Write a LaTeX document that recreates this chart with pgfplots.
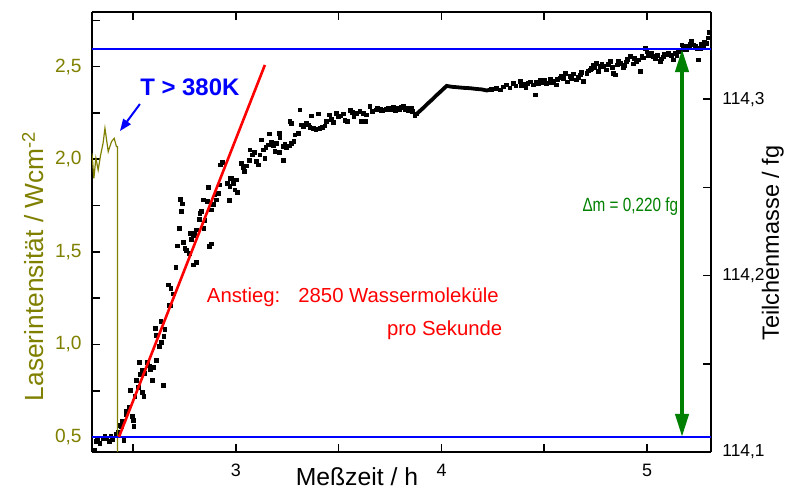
\documentclass[border=0pt]{standalone}
\usepackage{fontspec}
\setmainfont{Liberation Sans}
\usepackage{graphicx}
\usepackage{pgfplots}
\pgfplotsset{compat=1.18}
\usetikzlibrary{arrows.meta}
\definecolor{olivel}{RGB}{128,128,0}
\definecolor{dgreen}{RGB}{0,128,0}
\definecolor{bl}{RGB}{0,0,255}
\definecolor{rd}{RGB}{255,0,0}
\begin{document}
\begin{tikzpicture}
\useasboundingbox (-46bp,-19.5bp) rectangle (349bp,226bp);
% ---------------- right axis: particle mass ----------------
\begin{axis}[
  at={(0,0)}, anchor=south west,
  scale only axis, width=309.5bp, height=220bp,
  xmin=2.30, xmax=5.311, ymin=114.1, ymax=114.3494,
  axis x line=none, axis y line*=right,
  ytick={114.1,114.2,114.3}, yticklabels={{114,1},{114,2},{114,3}},
  minor ytick={114.15,114.25},
  tick align=inside, major tick length=4bp, minor tick length=4bp,
  every tick/.style={black, line width=0.8bp},
  axis line style={line width=0.9bp},
  yticklabel style={font=\fontsize{8.7}{10}\selectfont, inner sep=0pt, xshift=5.5bp, anchor=west},
  ylabel={Teilchenmasse / fg},
  ylabel style={font=\fontsize{11.8}{13}\selectfont, at={(axis description cs:1.100,0.475)}, anchor=center},
]
\addplot[only marks, mark=square*, mark size=0.95bp, black] coordinates {
(2.299,114.1085) (2.310,114.1007) (2.322,114.1058) (2.328,114.1079) (2.338,114.1051) (2.353,114.1074) (2.363,114.1091) (2.371,114.1079) (2.383,114.1058) (2.392,114.1091) (2.400,114.1072) (2.401,114.1074) (2.416,114.1096) (2.420,114.1102) (2.427,114.1109) (2.436,114.1153) (2.444,114.1143) (2.449,114.1172) (2.455,114.1064) (2.465,114.1215) (2.468,114.1228) (2.479,114.1253) (2.488,114.1348) (2.497,114.1204) (2.500,114.1177) (2.504,114.1143) (2.509,114.1314) (2.517,114.1404) (2.525,114.1367) (2.529,114.1506) (2.536,114.1442) (2.546,114.1465) (2.546,114.1339) (2.552,114.1314) (2.557,114.1446) (2.568,114.1506) (2.578,114.1488) (2.585,114.1469) (2.595,114.1408) (2.598,114.1480) (2.609,114.1701) (2.614,114.1663) (2.614,114.1518) (2.627,114.1597) (2.635,114.1739) (2.638,114.1620) (2.646,114.1378) (2.650,114.1654) (2.655,114.1696) (2.671,114.1947) (2.675,114.1833) (2.684,114.1928) (2.684,114.1828) (2.695,114.1896) (2.708,114.2047) (2.714,114.2168) (2.724,114.2268) (2.731,114.2433) (2.736,114.2362) (2.741,114.2406) (2.744,114.2187) (2.752,114.2155) (2.760,114.2141) (2.773,114.2127) (2.780,114.2240) (2.784,114.2206) (2.792,114.2225) (2.792,114.2060) (2.801,114.2240) (2.809,114.2259) (2.809,114.2073) (2.821,114.2319) (2.825,114.2353) (2.833,114.2362) (2.841,114.2429) (2.844,114.2268) (2.849,114.2315) (2.860,114.2419) (2.865,114.2501) (2.873,114.2164) (2.882,114.2372) (2.882,114.2179) (2.890,114.2404) (2.898,114.2457) (2.906,114.2429) (2.914,114.2467) (2.922,114.2514) (2.926,114.2627) (2.935,114.2640) (2.958,114.2523) (2.967,114.2425) (2.971,114.2504) (2.971,114.2552) (2.979,114.2552) (2.987,114.2523) (2.995,114.2486) (3.003,114.2542) (3.006,114.2470) (3.028,114.2637) (3.036,114.2614) (3.039,114.2589) (3.044,114.2589) (3.052,114.2622) (3.065,114.2652) (3.068,114.2712) (3.081,114.2684) (3.088,114.2697) (3.101,114.2646) (3.109,114.2627) (3.117,114.2684) (3.125,114.2769) (3.133,114.2712) (3.141,114.2665) (3.146,114.2728) (3.157,114.2741) (3.162,114.2803) (3.174,114.2754) (3.182,114.2735) (3.190,114.2703) (3.198,114.2750) (3.211,114.2807) (3.214,114.2784) (3.211,114.2697) (3.230,114.2652) (3.230,114.2731) (3.238,114.2746) (3.247,114.2728) (3.259,114.2735) (3.263,114.2873) (3.271,114.2864) (3.271,114.2750) (3.282,114.2759) (3.287,114.2797) (3.303,114.2807) (3.311,114.2939) (3.320,114.2854) (3.327,114.2844) (3.341,114.2864) (3.352,114.2854) (3.360,114.2841) (3.368,114.2905) (3.376,114.2835) (3.389,114.2830) (3.400,114.2916) (3.409,114.2835) (3.422,114.2841) (3.433,114.2848) (3.441,114.2873) (3.454,114.2911) (3.466,114.2886) (3.473,114.2867) (3.487,114.2920) (3.498,114.2901) (3.509,114.2905) (3.522,114.2916) (3.530,114.2878) (3.542,114.2873) (3.555,114.2935) (3.568,114.2924) (3.574,114.2901) (3.587,114.2920) (3.603,114.2929) (3.612,114.2873) (3.619,114.2920) (3.628,114.2873) (3.636,114.2911) (3.652,114.2958) (3.665,114.2929) (3.685,114.2939) (3.690,114.2947) (3.701,114.2943) (3.707,114.2935) (3.714,114.2935) (3.733,114.2943) (3.740,114.2949) (3.749,114.2939) (3.757,114.2943) (3.765,114.2954) (3.774,114.2935) (3.782,114.2939) (3.790,114.2949) (3.798,114.2943) (3.806,114.2954) (3.814,114.2958) (3.822,114.2943) (3.831,114.2949) (3.838,114.2938) (3.847,114.2943) (3.852,114.2947) (3.860,114.2929) (3.871,114.2905) (3.879,114.2916)
(4.241,114.3055) (4.269,114.3062) (4.285,114.3053) (4.300,114.3070) (4.317,114.3081) (4.333,114.3064) (4.349,114.3091) (4.362,114.3075) (4.382,114.3100) (4.390,114.3080) (4.397,114.3087) (4.411,114.3064) (4.420,114.3090) (4.431,114.3098) (4.447,114.3081) (4.455,114.3024) (4.460,114.3095) (4.470,114.3087) (4.479,114.3109) (4.494,114.3092) (4.500,114.3105) (4.512,114.3091) (4.528,114.3115) (4.535,114.3095) (4.544,114.3100) (4.557,114.3081) (4.565,114.3110) (4.577,114.3121) (4.585,114.3132) (4.593,114.3119) (4.601,114.3147) (4.611,114.3098) (4.625,114.3128) (4.630,114.3118) (4.640,114.3143) (4.658,114.3109) (4.665,114.3125) (4.674,114.3138) (4.680,114.3150) (4.690,114.3100) (4.707,114.3147) (4.715,114.3160) (4.723,114.3166) (4.730,114.3175) (4.739,114.3194) (4.745,114.3180) (4.755,114.3204) (4.763,114.3156) (4.771,114.3185) (4.780,114.3200) (4.788,114.3185) (4.804,114.3166) (4.810,114.3195) (4.820,114.3213) (4.830,114.3180) (4.836,114.3147) (4.845,114.3138) (4.854,114.3194) (4.860,114.3215) (4.869,114.3204) (4.883,114.3177) (4.890,114.3190) (4.898,114.3211) (4.905,114.3225) (4.917,114.3241) (4.932,114.3200) (4.940,114.3230) (4.950,114.3213) (4.960,114.3222) (4.966,114.3156) (4.975,114.3245) (4.981,114.3234) (4.990,114.3289) (4.999,114.3268) (5.005,114.3250) (5.015,114.3251) (5.020,114.3260) (5.031,114.3241) (5.040,114.3232) (5.050,114.3250) (5.064,114.3213) (5.070,114.3228) (5.078,114.3240) (5.085,114.3255) (5.096,114.3251) (5.105,114.3262) (5.112,114.3251) (5.120,114.3245) (5.129,114.3223) (5.137,114.3261) (5.145,114.3250) (5.152,114.3268) (5.161,114.3270) (5.169,114.3308) (5.175,114.3290) (5.180,114.3279) (5.190,114.3300) (5.194,114.3279) (5.204,114.3296) (5.210,114.3310) (5.217,114.3326) (5.225,114.3308) (5.235,114.3300) (5.242,114.3289) (5.250,114.3223) (5.258,114.3289) (5.265,114.3310) (5.274,114.3298) (5.280,114.3325) (5.290,114.3317) (5.297,114.3347) (5.303,114.3377)
};
\addplot[black, line width=1.9bp, no marks] coordinates {
(3.879,114.2916) (3.895,114.2933) (3.915,114.2954) (3.934,114.2976) (3.954,114.2997) (3.973,114.3019) (3.993,114.3040) (4.012,114.3061) (4.025,114.3075) (4.051,114.3070) (4.080,114.3067) (4.109,114.3064) (4.139,114.3062) (4.168,114.3058) (4.197,114.3055) (4.220,114.3049) (4.241,114.3055)
};
\end{axis}
% ---------------- left axis: laser intensity ----------------
\begin{axis}[
  at={(0,0)}, anchor=south west,
  scale only axis, width=309.5bp, height=220bp,
  xmin=2.30, xmax=5.311, ymin=0.419, ymax=2.795,
  axis y line*=left,
  xtick={3,4,5}, xticklabels={3,4,5}, minor xtick={2.5,3.5,4.5},
  ytick={0.5,1,1.5,2,2.5}, yticklabels={{0,5},{1,0},{1,5},{2,0},{2,5}},
  minor ytick={0.75,1.25,1.75,2.25,2.75},
  tick align=inside, major tick length=4bp, minor tick length=4bp,
  every tick/.style={black, line width=0.8bp},
  axis line style={line width=0.9bp},
  xticklabel style={font=\fontsize{9}{10}\selectfont, inner sep=0pt, yshift=-6bp, anchor=north},
  yticklabel style={font=\fontsize{9.6}{11}\selectfont, text=olivel, inner sep=0pt, xshift=-5bp, anchor=east},
  xlabel={Meßzeit / h},
  xlabel style={font=\fontsize{12.4}{14}\selectfont, at={(axis description cs:0.428,-0.057)}, anchor=center},
  ylabel={Laserintensität / Wcm\textsuperscript{-2}},
  ylabel style={font=\fontsize{13.2}{15}\selectfont, text=olivel, at={(axis description cs:-0.0953,0.4227)}, anchor=center},
]
\addplot[olivel, line width=0.6bp] coordinates {
(2.300,2.032) (2.309,1.897) (2.319,2.005) (2.330,1.942) (2.342,2.023) (2.354,2.087) (2.363,2.167) (2.379,2.041) (2.395,2.095) (2.408,2.113) (2.419,2.068) (2.424,2.068) (2.424,0.30)
};
\addplot[bl, line width=0.6bp] coordinates {(2.30,0.5) (5.311,0.5)};
\addplot[bl, line width=0.6bp] coordinates {(2.30,2.595) (5.311,2.595)};
\addplot[rd, line width=1.3bp] coordinates {(2.431,0.5) (3.141,2.509)};
\addplot[dgreen, line width=2bp, {Triangle[length=11.5bp,width=6.5bp]}-{Triangle[length=11.5bp,width=6.5bp]}] coordinates {(5.170,0.5) (5.170,2.595)};
\addplot[bl, line width=1bp, -{Triangle[length=6bp,width=4.5bp]}] coordinates {(2.533,2.298) (2.436,2.152)};
\node[font=\bfseries\fontsize{12}{14}\selectfont, text=bl] at (axis cs:2.776,2.390) {T > 380K};
\node[anchor=west, font=\fontsize{10.2}{12}\selectfont, text=rd] at (axis cs:2.825,1.256) {Anstieg:\hspace{9bp}2850 Wassermoleküle};
\node[anchor=west, font=\fontsize{10.2}{12}\selectfont, text=rd] at (axis cs:3.701,1.078) {pro Sekunde};
\node[anchor=west, inner sep=0pt, font=\fontsize{9.6}{11}\selectfont, text=dgreen] at (axis cs:4.684,1.742) {\scalebox{0.8}[1]{Δm = 0,220 fg}};
\end{axis}
\end{tikzpicture}
\end{document}
